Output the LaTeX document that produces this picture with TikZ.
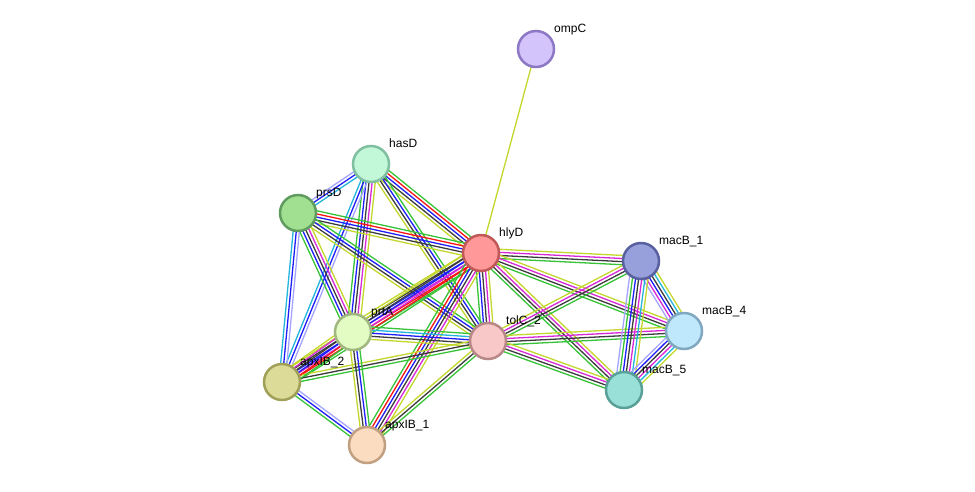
\documentclass[tikz,border=0pt]{standalone}
\usepackage{fontspec}
\setmainfont{Liberation Sans}
\usetikzlibrary{calc,backgrounds}
\definecolor{eG}{RGB}{55,195,55}
\definecolor{eR}{RGB}{250,20,20}
\definecolor{eB}{RGB}{30,30,250}
\definecolor{eK}{RGB}{60,60,60}
\definecolor{eM}{RGB}{215,40,215}
\definecolor{eC}{RGB}{35,180,220}
\definecolor{eY}{RGB}{195,215,45}
\definecolor{eL}{RGB}{165,165,255}
\tikzset{
  prot/.style={circle, minimum size=36pt, inner sep=0pt, line width=2.5pt},
  lbl/.style={anchor=base west, inner sep=0pt, font=\fontsize{12}{14}\selectfont},
}
\newcommand\sedge[3]{%
  \xdef\sedgeN{0}%
  \foreach \c in {#3}{\xdef\sedgeN{\the\numexpr\sedgeN+1\relax}}%
  \foreach \c [count=\i] in {#3}{%
    \pgfmathsetmacro\off{(\i-(\sedgeN+1)/2)*3.1}%
    \draw[color=\c, line width=1.3pt] ($(#1.center)!\off pt!90:(#2.center)$) -- ($(#2.center)!\off pt!-90:(#1.center)$);
  }%
}
\newcommand\plabel[3]{%
  \node[lbl] (#2) at ($(#1)+(18,-17)$) {#3};
}
\begin{document}
\begin{tikzpicture}[x=1pt,y=-1pt]
\useasboundingbox (0,0) rectangle (975,491);
\node[prot, fill={rgb,255:red,212;green,196;blue,252}, draw={rgb,255:red,140;green,120;blue,196}] (ompC) at (536,49) {};
\node[prot, fill={rgb,255:red,194;green,248;blue,216}, draw={rgb,255:red,128;green,192;blue,160}] (hasD) at (371,164) {};
\node[prot, fill={rgb,255:red,160;green,224;blue,144}, draw={rgb,255:red,96;green,156;blue,96}] (prsD) at (298,213) {};
\node[prot, fill={rgb,255:red,255;green,152;blue,152}, draw={rgb,255:red,192;green,88;blue,88}] (hlyD) at (481,253) {};
\node[prot, fill={rgb,255:red,152;green,160;blue,220}, draw={rgb,255:red,88;green,96;blue,160}] (macB1) at (641,261) {};
\node[prot, fill={rgb,255:red,192;green,232;blue,252}, draw={rgb,255:red,128;green,168;blue,192}] (macB4) at (684,331) {};
\node[prot, fill={rgb,255:red,226;green,252;blue,196}, draw={rgb,255:red,160;green,184;blue,128}] (prtA) at (353,332) {};
\node[prot, fill={rgb,255:red,248;green,200;blue,200}, draw={rgb,255:red,184;green,136;blue,136}] (tolC) at (488,341) {};
\node[prot, fill={rgb,255:red,220;green,220;blue,152}, draw={rgb,255:red,160;green,160;blue,88}] (apx2) at (282,382) {};
\node[prot, fill={rgb,255:red,152;green,224;blue,216}, draw={rgb,255:red,88;green,160;blue,152}] (macB5) at (624,390) {};
\node[prot, fill={rgb,255:red,252;green,220;blue,192}, draw={rgb,255:red,192;green,160;blue,128}] (apx1) at (367,445) {};
\begin{scope}[on background layer]
\fill[white] (0,0) rectangle (975,491);
\sedge{ompC}{hlyD}{eY}
\sedge{hasD}{prsD}{eL,eB,eC}
\sedge{hasD}{hlyD}{eY,eK,eB,eR,eG}
\sedge{hasD}{tolC}{eY,eK,eB,eG}
\sedge{hasD}{prtA}{eG,eB,eK,eM,eY}
\sedge{hasD}{apx2}{eC,eB,eL}
\sedge{prsD}{hlyD}{eY,eK,eB,eR,eG}
\sedge{prsD}{prtA}{eG,eB,eK,eM,eY}
\sedge{prsD}{tolC}{eY,eK,eB,eG}
\sedge{prsD}{apx2}{eC,eB,eL}
\sedge{hlyD}{macB1}{eG,eK,eM,eY}
\sedge{hlyD}{macB4}{eG,eK,eM,eY}
\sedge{hlyD}{macB5}{eG,eK,eM,eY}
\sedge{hlyD}{tolC}{eG,eB,eK,eM,eY}
\sedge{hlyD}{prtA}{eY,eK,eB,eM,eR,eG}
\sedge{hlyD}{apx2}{eY,eK,eB,eM,eR,eG}
\sedge{hlyD}{apx1}{eG,eR,eB,eK,eM,eY}
\sedge{tolC}{macB1}{eG,eK,eM,eY}
\sedge{tolC}{macB4}{eG,eK,eM,eY}
\sedge{tolC}{macB5}{eG,eK,eM,eY}
\sedge{tolC}{prtA}{eG,eC,eB,eK,eY}
\sedge{tolC}{apx2}{eY,eK,eG}
\sedge{tolC}{apx1}{eY,eK,eG}
\sedge{macB1}{macB4}{eL,eM,eB,eK,eC,eY}
\sedge{macB1}{macB5}{eL,eG,eB,eK,eM,eC,eY}
\sedge{macB4}{macB5}{eL,eB,eK,eM,eC,eY}
\sedge{prtA}{apx2}{eY,eM,eK,eB,eR,eG}
\sedge{prtA}{apx1}{eY,eK,eB,eG}
\sedge{apx2}{apx1}{eG,eB,eL}
\end{scope}
\plabel{ompC}{tompC}{ompC}
\plabel{hasD}{thasD}{hasD}
\plabel{prsD}{tprsD}{prsD}
\plabel{hlyD}{thlyD}{hlyD}
\plabel{macB1}{tmacB1}{macB\_1}
\plabel{macB4}{tmacB4}{macB\_4}
\plabel{prtA}{tprtA}{prtA}
\plabel{tolC}{ttolC}{tolC\_2}
\plabel{apx2}{tapx2}{apxIB\_2}
\plabel{macB5}{tmacB5}{macB\_5}
\plabel{apx1}{tapx1}{apxIB\_1}
\end{tikzpicture}
\end{document}
